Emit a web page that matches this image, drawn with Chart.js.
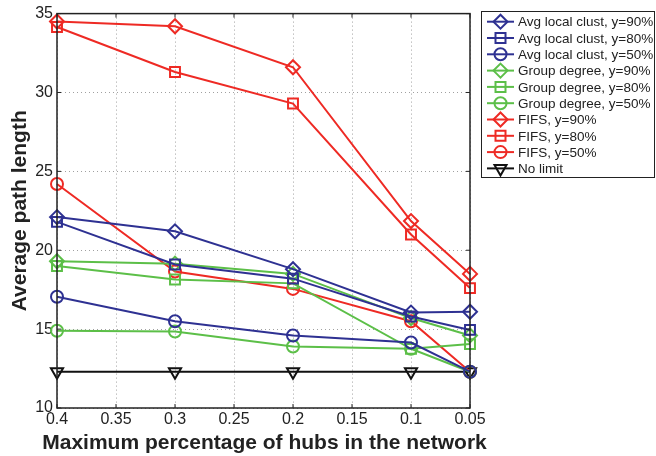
<!DOCTYPE html>
<html>
<head>
<meta charset="utf-8">
<script src="https://cdn.jsdelivr.net/npm/chart.js@4/dist/chart.umd.min.js"></script>
<style>
  html, body { margin: 0; padding: 0; background: #fff; }
  #wrap { width: 656px; height: 456px; }
</style>
</head>
<body>
<div id="wrap"><canvas id="chart" width="656" height="456"></canvas></div>
<script>
// data
const hubs = [0.4, 0.3, 0.2, 0.1, 0.05];
const avg90 = [22.1, 21.2, 18.8, 16.05, 16.1];
const avg80 = [21.8, 19.1, 18.2, 15.8, 14.95];
const avg50 = [17.05, 15.5, 14.6, 14.15, 12.3];
const grp90 = [19.3, 19.15, 18.5, 15.7, 14.6];
const grp80 = [19.0, 18.15, 17.9, 13.75, 14.05];
const grp50 = [14.9, 14.85, 13.9, 13.75, 12.3];
const fifs90 = [34.5, 34.2, 31.6, 21.85, 18.5];
const fifs80 = [34.15, 31.3, 29.3, 21.0, 17.6];
const fifs50 = [24.2, 18.65, 17.55, 15.5, 12.3];
const noLimit = [12.3, 12.3, 12.3, 12.3, 12.3];

const labels = [
  "Avg local clust, y=90%", "Avg local clust, y=80%", "Avg local clust, y=50%",
  "Group degree, y=90%", "Group degree, y=80%", "Group degree, y=50%",
  "FIFS, y=90%", "FIFS, y=80%", "FIFS, y=50%", "No limit"
];
const series = [avg90, avg80, avg50, grp90, grp80, grp50, fifs90, fifs80, fifs50, noLimit];
const xTitle = "Maximum percentage of hubs in the network";

const BLUE = "#2e3192", GREEN = "#5cbf48", RED = "#ee2a24", BLACK = "#111";
const colors = [BLUE, BLUE, BLUE, GREEN, GREEN, GREEN, RED, RED, RED, BLACK];
const shapes = ["diamond", "square", "circle", "diamond", "square", "circle", "diamond", "square", "circle", "tri"];

const styleMap = {
  diamond: { pointStyle: "rectRot", radius: 7, rotation: 0 },
  square: { pointStyle: "rect", radius: 7, rotation: 0 },
  circle: { pointStyle: "circle", radius: 6, rotation: 0 },
  tri: { pointStyle: "triangle", radius: 7, rotation: 180 }
};

const xTicks = [0.4, 0.35, 0.3, 0.25, 0.2, 0.15, 0.1, 0.05];
const yTicks = [10, 15, 20, 25, 30, 35];

const FONT = "'Liberation Sans', Arial, sans-serif";

const datasets = series.map((vals, i) => {
  const s = styleMap[shapes[i]];
  return {
    label: labels[i],
    data: vals.map((v, j) => ({ x: hubs[j], y: v })),
    borderColor: colors[i],
    backgroundColor: "transparent",
    borderWidth: 2,
    pointStyle: s.pointStyle,
    pointRadius: s.radius,
    pointRotation: s.rotation,
    pointBorderWidth: 2,
    pointBorderColor: colors[i],
    pointBackgroundColor: "transparent",
    tension: 0,
    clip: false
  };
});

function drawMarker(ctx, shape, x, y, color) {
  ctx.save();
  ctx.strokeStyle = color;
  ctx.lineWidth = 2;
  ctx.beginPath();
  if (shape === "diamond") {
    ctx.moveTo(x, y - 7); ctx.lineTo(x + 7, y); ctx.lineTo(x, y + 7); ctx.lineTo(x - 7, y); ctx.closePath();
  } else if (shape === "square") {
    ctx.rect(x - 5, y - 5, 10, 10);
  } else if (shape === "circle") {
    ctx.arc(x, y, 6, 0, Math.PI * 2);
  } else {
    ctx.moveTo(x, y + 7); ctx.lineTo(x + 6, y - 3.5); ctx.lineTo(x - 6, y - 3.5); ctx.closePath();
  }
  ctx.stroke();
  ctx.restore();
}

const frame = {
  id: "frame",
  afterDatasetsDraw(chart) {
    const { ctx, chartArea: a, scales } = chart;
    ctx.save();
    ctx.strokeStyle = "#222";
    ctx.lineWidth = 1.5;
    ctx.strokeRect(a.left, a.top, a.right - a.left, a.bottom - a.top);
    // inward ticks
    ctx.lineWidth = 1;
    ctx.beginPath();
    xTicks.forEach(t => {
      const px = scales.x.getPixelForValue(t);
      ctx.moveTo(px, a.top); ctx.lineTo(px, a.top + 4);
      ctx.moveTo(px, a.bottom); ctx.lineTo(px, a.bottom - 4);
    });
    yTicks.forEach(t => {
      const py = scales.y.getPixelForValue(t);
      ctx.moveTo(a.left, py); ctx.lineTo(a.left + 4, py);
      ctx.moveTo(a.right, py); ctx.lineTo(a.right - 4, py);
    });
    ctx.stroke();
    ctx.restore();
  },
  afterDraw(chart) {
    const ctx = chart.ctx;
    const a = chart.chartArea;
    ctx.save();
    // x axis title, wider than the plot area like the original
    ctx.font = "bold 21px " + FONT;
    ctx.fillStyle = "#222";
    ctx.textAlign = "center";
    ctx.textBaseline = "middle";
    ctx.fillText(xTitle, (a.left + a.right) / 2 + 1, 443);
    ctx.textAlign = "left";

    const bx = 481, by = 11, bw = 174, bh = 167;
    ctx.fillStyle = "#fff";
    ctx.fillRect(bx, by, bw, bh);
    ctx.strokeStyle = "#222";
    ctx.lineWidth = 1;
    ctx.strokeRect(bx + 0.5, by + 0.5, bw - 1, bh - 1);
    ctx.font = "13.5px " + FONT;
    labels.forEach((lab, i) => {
      const y = 21.7 + i * 16.3;
      ctx.strokeStyle = colors[i];
      ctx.lineWidth = 2;
      ctx.beginPath();
      ctx.moveTo(487, y); ctx.lineTo(514, y);
      ctx.stroke();
      drawMarker(ctx, shapes[i], 500.5, y, colors[i]);
      ctx.fillStyle = "#222";
      ctx.fillText(lab, 518, y + 1);
    });
    ctx.restore();
  }
};

new Chart(document.getElementById("chart"), {
  type: "line",
  data: { datasets },
  options: {
    responsive: false,
    animation: false,
    layout: { padding: { left: 0, right: 186, top: 12, bottom: 0 } },
    plugins: { legend: { display: false }, tooltip: { enabled: false } },
    scales: {
      x: {
        type: "linear",
        reverse: true,
        min: 0.05,
        max: 0.4,
        afterBuildTicks: s => { s.ticks = xTicks.map(v => ({ value: v })); },
        afterFit: s => { s.height = 48; },
        ticks: {
          color: "#222",
          font: { family: FONT, size: 16 },
          padding: 2,
          maxRotation: 0,
          autoSkip: false,
          callback: v => String(+v.toFixed(2))
        },
        grid: { color: "#a0a0a0", lineWidth: 1, drawTicks: false },
        border: { display: false, dash: [1, 3] },
        title: { display: false }
      },
      y: {
        min: 10,
        max: 35,
        afterBuildTicks: s => { s.ticks = yTicks.map(v => ({ value: v })); },
        afterFit: s => { s.width = 57; },
        ticks: {
          color: "#222",
          font: { family: FONT, size: 16 },
          padding: 4
        },
        grid: { color: "#a0a0a0", lineWidth: 1, drawTicks: false },
        border: { display: false, dash: [1, 3] },
        title: {
          display: true,
          text: "Average path length",
          color: "#222",
          font: { family: FONT, size: 21, weight: "bold" },
          padding: { top: 8, bottom: 0 }
        }
      }
    }
  },
  plugins: [frame]
});
</script>
</body>
</html>
